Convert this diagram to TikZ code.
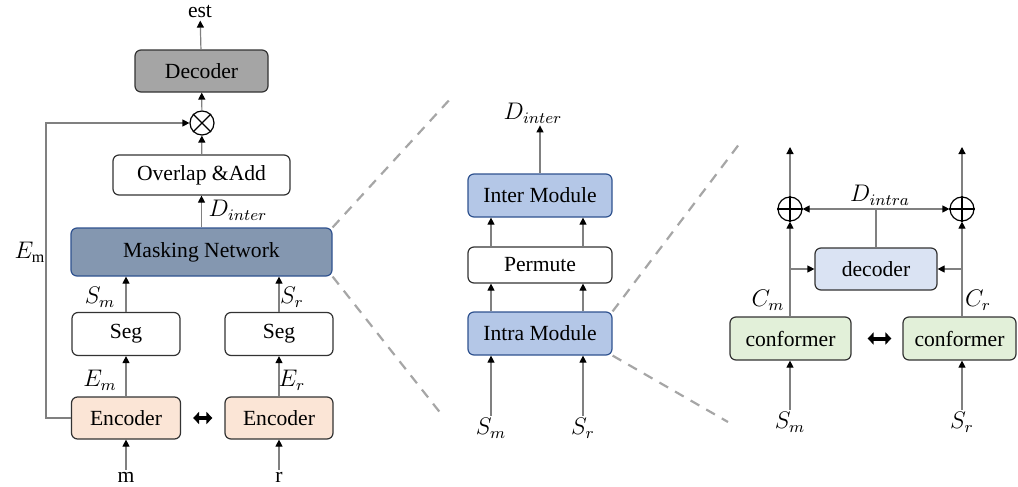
\documentclass[tikz,border=0pt]{standalone}
\usepackage{fontspec}
\setmainfont{Liberation Serif}
\usetikzlibrary{arrows.meta,positioning}
\definecolor{mgray}{HTML}{A5A5A5}
\definecolor{mmask}{HTML}{8497B0}
\definecolor{mdeep}{HTML}{2F528F}
\definecolor{mmod}{HTML}{B4C7E7}
\definecolor{menc}{HTML}{FBE5D6}
\definecolor{mdec}{HTML}{DAE3F3}
\definecolor{mconf}{HTML}{E2F0D9}
\tikzstyle{blk}=[draw=black!80, rounded corners=3pt, line width=0.6pt, inner sep=0pt, font=\fontsize{10.8}{13}\selectfont]
\tikzstyle{lab}=[inner sep=1pt, font=\fontsize{10.8}{13}\selectfont]
\tikzstyle{mlab}=[inner sep=1pt, font=\fontsize{12}{14}\selectfont]
\tikzstyle{l1}=[draw=black!50, line width=0.6pt, -{Triangle[length=3.5pt,width=3.5pt,black]}]
\tikzstyle{zoomline}=[draw=black!35, line width=1.1pt, dash pattern=on 5pt off 4pt]
\tikzstyle{swap}=[line width=2pt, {Triangle[length=3pt,width=6pt]}-{Triangle[length=3pt,width=6pt]}]
\tikzstyle{op}=[circle, draw=black, line width=0.6pt, minimum size=12pt, inner sep=0pt]

\begin{document}
\begin{tikzpicture}[x=0.5pt,y=-0.5pt]
    \useasboundingbox (0,0) rectangle (1018,487);

    % left: whole network
    \node[lab] (est) at (200,12) {est};
    \node[blk, fill=mgray, minimum width=66.5pt, minimum height=21pt] (dec) at (201.5,71) {Decoder};
    \node[op] (mul) at (202,123) {};
    \draw[line width=0.6pt] (mul.north west) -- (mul.south east) (mul.north east) -- (mul.south west);
    \node[blk, fill=white, minimum width=88.5pt, minimum height=20pt] (ola) at (201.5,175) {Overlap \&Add};
    \node[blk, draw=mdeep, fill=mmask, minimum width=130.5pt, minimum height=24pt] (mask) at (201.5,252) {Masking Network};
    \node[blk, fill=white, minimum width=54pt, minimum height=21.5pt] (segL) at (126,334) {Seg};
    \node[blk, fill=white, minimum width=54pt, minimum height=21.5pt] (segR) at (279,334) {Seg};
    \node[blk, fill=menc, minimum width=54.5pt, minimum height=21pt] (encL) at (126,418) {Encoder};
    \node[blk, fill=menc, minimum width=54pt, minimum height=21pt] (encR) at (279,418) {Encoder};
    \node[lab] (m) at (126,477) {m};
    \node[lab] (r) at (279,477) {r};

    \draw[l1] (m) -- (encL);
    \draw[l1] (r) -- (encR);
    \draw[l1] (encL) -- (segL);
    \draw[l1] (encR) -- (segR);
    \draw[l1] (segL) -- (segL |- mask.south);
    \draw[l1] (segR) -- (segR |- mask.south);
    \draw[l1] (mask) -- (ola);
    \draw[l1] (ola) -- (mul);
    \draw[l1] (mul) -- (dec);
    \draw[l1] (dec) -- (est);
    \draw[l1] (encL.west) -- ++(-25,0) |- (mul);
    \draw[swap] ([xshift=6pt]encL.east) -- ([xshift=-6pt]encR.west);

    \node[mlab] at (30,252) {$E_\mathrm{m}$};
    \node[mlab] at (100,380) {$E_m$};
    \node[mlab] at (292,380) {$E_r$};
    \node[mlab] at (100,297) {$S_m$};
    \node[mlab] at (292,297) {$S_r$};
    \node[mlab] at (238,210) {$D_{inter}$};

    % middle: masking network
    \node[mlab] (dout) at (533,113) {$D_{inter}$};
    \node[blk, draw=mdeep, fill=mmod, minimum width=72pt, minimum height=21.5pt] (inter) at (540,195.5) {Inter Module};
    \node[blk, fill=white, minimum width=72pt, minimum height=18pt] (perm) at (540,265) {Permute};
    \node[blk, draw=mdeep, fill=mmod, minimum width=72pt, minimum height=21.5pt] (intra) at (540,333.5) {Intra Module};
    \node[mlab] (sm2) at (491,428) {$S_m$};
    \node[mlab] (sr2) at (583,428) {$S_r$};

    \draw[l1] (sm2) -- (sm2 |- intra.south);
    \draw[l1] (sr2) -- (sr2 |- intra.south);
    \draw[l1] (sm2 |- intra.north) -- (sm2 |- perm.south);
    \draw[l1] (sr2 |- intra.north) -- (sr2 |- perm.south);
    \draw[l1] (sm2 |- perm.north) -- (sm2 |- inter.south);
    \draw[l1] (sr2 |- perm.north) -- (sr2 |- inter.south);
    \draw[l1] (inter) -- (inter |- dout.south);

    % right: intra module
    \node[mlab] (sm3) at (790,422) {$S_m$};
    \node[mlab] (sr3) at (962,422) {$S_r$};
    \node[blk, fill=mconf, minimum width=60.5pt, minimum height=21.5pt] (conL) at (790.5,338.5) {conformer};
    \node[blk, fill=mconf, minimum width=56.5pt, minimum height=21.5pt] (conR) at (959.5,338.5) {conformer};
    \node[blk, fill=mdec, minimum width=61pt, minimum height=21pt] (dec2) at (876,269) {decoder};
    \node[op] (addL) at (790,209) {};
    \node[op] (addR) at (962,209) {};
    \draw[line width=0.6pt] (addL.north) -- (addL.south) (addL.west) -- (addL.east);
    \draw[line width=0.6pt] (addR.north) -- (addR.south) (addR.west) -- (addR.east);
    \coordinate (o1) at (790,147);
    \coordinate (o2) at (962,147);

    \draw[l1] (sm3) -- (sm3 |- conL.south);
    \draw[l1] (sr3) -- (sr3 |- conR.south);
    \draw[l1] (sm3 |- conL.north) -- (addL);
    \draw[l1] (sr3 |- conR.north) -- (addR);
    \draw[l1] (addL) -- (o1);
    \draw[l1] (addR) -- (o2);
    \draw[l1] (sm3 |- dec2.west) -- (dec2.west);
    \draw[l1] (sr3 |- dec2.east) -- (dec2.east);
    \draw[l1] (dec2.north) |- (addL);
    \draw[l1] (dec2.north) |- (addR);
    \draw[swap] ([xshift=8pt]conL.east) -- ([xshift=-5.5pt]conR.west);

    \node[mlab] at (880,195) {$D_{intra}$};
    \node[mlab] at (768,300) {$C_m$};
    \node[mlab] at (978,300) {$C_r$};

    % zoom lines
    \coordinate (z1) at (452,97);
    \coordinate (z2) at (442,415);
    \coordinate (z3) at (740,143);
    \coordinate (z4) at (728,422);
    \draw[zoomline] (mask.north east) -- (z1);
    \draw[zoomline] (mask.south east) -- (z2);
    \draw[zoomline] (intra.north east) -- (z3);
    \draw[zoomline] (intra.south east) -- (z4);
\end{tikzpicture}
\end{document}
